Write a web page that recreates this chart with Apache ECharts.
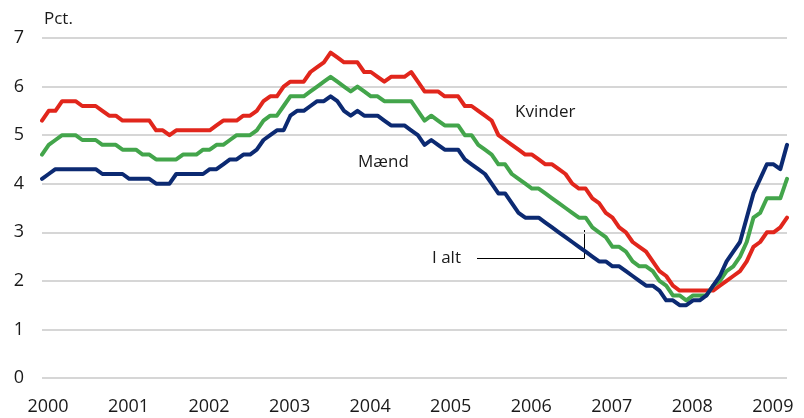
<!DOCTYPE html>
<html>
<head>
<meta charset="utf-8">
<script src="https://cdn.jsdelivr.net/npm/echarts@6/dist/echarts.min.js"></script>
<style>
  html, body { margin: 0; padding: 0; background: #fff; }
  #chart { width: 804px; height: 418px; }
</style>
</head>
<body>
<div id="chart"></div>
<script>
// år på x-aksen, månedlige observationer fra jan 2000
const years = ['2000', '2001', '2002', '2003', '2004', '2005', '2006', '2007', '2008', '2009']
const lastYearMonths = 4

// ledighed i pct.
const kvinder = [
  5.3, 5.5, 5.5, 5.7, 5.7, 5.7, 5.6, 5.6, 5.6, 5.5, 5.4, 5.4,
  5.3, 5.3, 5.3, 5.3, 5.3, 5.1, 5.1, 5.0, 5.1, 5.1, 5.1, 5.1,
  5.1, 5.1, 5.2, 5.3, 5.3, 5.3, 5.4, 5.4, 5.5, 5.7, 5.8, 5.8,
  6.0, 6.1, 6.1, 6.1, 6.3, 6.4, 6.5, 6.7, 6.6, 6.5, 6.5, 6.5,
  6.3, 6.3, 6.2, 6.1, 6.2, 6.2, 6.2, 6.3, 6.1, 5.9, 5.9, 5.9,
  5.8, 5.8, 5.8, 5.6, 5.6, 5.5, 5.4, 5.3, 5.0, 4.9, 4.8, 4.7,
  4.6, 4.6, 4.5, 4.4, 4.4, 4.3, 4.2, 4.0, 3.9, 3.9, 3.7, 3.6,
  3.4, 3.3, 3.1, 3.0, 2.8, 2.7, 2.6, 2.4, 2.2, 2.1, 1.9, 1.8,
  1.8, 1.8, 1.8, 1.8, 1.8, 1.9, 2.0, 2.1, 2.2, 2.4, 2.7, 2.8,
  3.0, 3.0, 3.1, 3.3
]
const iAlt = [
  4.6, 4.8, 4.9, 5.0, 5.0, 5.0, 4.9, 4.9, 4.9, 4.8, 4.8, 4.8,
  4.7, 4.7, 4.7, 4.6, 4.6, 4.5, 4.5, 4.5, 4.5, 4.6, 4.6, 4.6,
  4.7, 4.7, 4.8, 4.8, 4.9, 5.0, 5.0, 5.0, 5.1, 5.3, 5.4, 5.4,
  5.6, 5.8, 5.8, 5.8, 5.9, 6.0, 6.1, 6.2, 6.1, 6.0, 5.9, 6.0,
  5.9, 5.8, 5.8, 5.7, 5.7, 5.7, 5.7, 5.7, 5.5, 5.3, 5.4, 5.3,
  5.2, 5.2, 5.2, 5.0, 5.0, 4.8, 4.7, 4.6, 4.4, 4.4, 4.2, 4.1,
  4.0, 3.9, 3.9, 3.8, 3.7, 3.6, 3.5, 3.4, 3.3, 3.3, 3.1, 3.0,
  2.9, 2.7, 2.7, 2.6, 2.4, 2.3, 2.3, 2.2, 2.0, 1.9, 1.7, 1.7,
  1.6, 1.7, 1.7, 1.7, 1.9, 2.0, 2.2, 2.3, 2.5, 2.8, 3.3, 3.4,
  3.7, 3.7, 3.7, 4.1
]
const maend = [
  4.1, 4.2, 4.3, 4.3, 4.3, 4.3, 4.3, 4.3, 4.3, 4.2, 4.2, 4.2,
  4.2, 4.1, 4.1, 4.1, 4.1, 4.0, 4.0, 4.0, 4.2, 4.2, 4.2, 4.2,
  4.2, 4.3, 4.3, 4.4, 4.5, 4.5, 4.6, 4.6, 4.7, 4.9, 5.0, 5.1,
  5.1, 5.4, 5.5, 5.5, 5.6, 5.7, 5.7, 5.8, 5.7, 5.5, 5.4, 5.5,
  5.4, 5.4, 5.4, 5.3, 5.2, 5.2, 5.2, 5.1, 5.0, 4.8, 4.9, 4.8,
  4.7, 4.7, 4.7, 4.5, 4.4, 4.3, 4.2, 4.0, 3.8, 3.8, 3.6, 3.4,
  3.3, 3.3, 3.3, 3.2, 3.1, 3.0, 2.9, 2.8, 2.7, 2.6, 2.5, 2.4,
  2.4, 2.3, 2.3, 2.2, 2.1, 2.0, 1.9, 1.9, 1.8, 1.6, 1.6, 1.5,
  1.5, 1.6, 1.6, 1.7, 1.9, 2.1, 2.4, 2.6, 2.8, 3.3, 3.8, 4.1,
  4.4, 4.4, 4.3, 4.8
]

// månedskategorier
const months = []
years.forEach((y, yi) => {
  const n = yi === years.length - 1 ? lastYearMonths : 12
  for (let m = 1; m <= n; m++) months.push(y + '-' + (m < 10 ? '0' + m : m))
})

const FONT = '"Open Sans", "Noto Sans", sans-serif'
const TXT = '#1a1a1a'

const chart = echarts.init(document.getElementById('chart'), null, { renderer: 'canvas' })

function line(name, data, color) {
  return {
    name: name,
    type: 'line',
    data: data,
    symbol: 'none',
    smooth: false,
    lineStyle: { color: color, width: 4, join: 'round', cap: 'round' },
    itemStyle: { color: color },
    animation: false
  }
}

chart.setOption({
  animation: false,
  grid: { left: 42, right: 17, top: 38, bottom: 40 },
  xAxis: {
    type: 'category',
    data: months,
    boundaryGap: false,
    axisLine: { show: false },
    axisTick: { show: false },
    splitLine: { show: false },
    axisLabel: {
      interval: (i) => i % 12 === 0,
      formatter: (v) => v.slice(0, 4),
      color: TXT,
      fontFamily: FONT,
      fontSize: 18,
      margin: 20,
      padding: [0, 0, 0, 12]
    }
  },
  yAxis: {
    type: 'value',
    min: 0,
    max: 7,
    interval: 1,
    axisLine: { show: false },
    axisTick: { show: false },
    splitLine: { lineStyle: { color: '#d6d6d6', width: 2 } },
    axisLabel: { color: TXT, fontFamily: FONT, fontSize: 18, margin: 18 }
  },
  series: [
    line('Kvinder', kvinder, '#e1261c'),
    line('I alt', iAlt, '#43a54b'),
    line('Mænd', maend, '#0c2a72')
  ],
  graphic: [
    { type: 'text', left: 44, top: 11, style: { text: 'Pct.', font: '17px ' + FONT, fill: TXT } },
    { type: 'text', left: 515, top: 104, style: { text: 'Kvinder', font: '17px ' + FONT, fill: TXT } },
    { type: 'text', left: 358, top: 154, style: { text: 'Mænd', font: '17px ' + FONT, fill: TXT } },
    { type: 'text', left: 432, top: 250, style: { text: 'I alt', font: '17px ' + FONT, fill: TXT } },
    {
      type: 'polyline',
      shape: { points: [[477, 258.5], [584.5, 258.5], [584.5, 230]] },
      style: { stroke: '#000', lineWidth: 1, fill: null }
    }
  ]
})
</script>
</body>
</html>
